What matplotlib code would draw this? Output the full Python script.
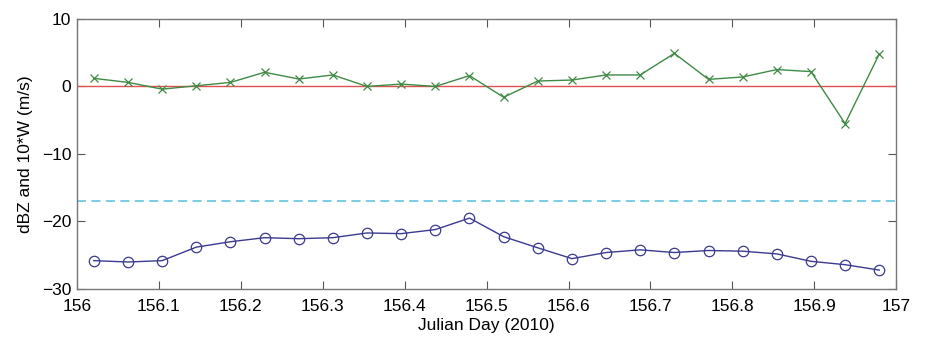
import numpy as np
import matplotlib
matplotlib.use("Agg")
import matplotlib.pyplot as plt

plt.rcParams['font.family'] = ['Liberation Sans', 'DejaVu Sans']

julian_day = [156 + (i + 0.5) / 24 for i in range(24)]
w_times10 = [1.2, 0.6, -0.4, 0.1, 0.6, 2.1, 1.1, 1.7, 0.0, 0.35, 0.0, 1.6,
             -1.6, 0.8, 0.95, 1.7, 1.7, 4.9, 1.05, 1.4, 2.5, 2.2, -5.5, 4.8]
dbz = [-25.8, -26.0, -25.8, -23.8, -23.0, -22.4, -22.55, -22.4, -21.7, -21.8, -21.2, -19.5,
       -22.25, -23.9, -25.5, -24.6, -24.2, -24.6, -24.3, -24.4, -24.8, -25.9, -26.4, -27.2]
zero_level = 0
threshold_level = -16.9

xticks = [156, 156.1, 156.2, 156.3, 156.4, 156.5, 156.6, 156.7, 156.8, 156.9, 157]
xticklabels = ["156", "156.1", "156.2", "156.3", "156.4", "156.5", "156.6", "156.7", "156.8", "156.9", "157"]
yticks = [-30, -20, -10, 0, 10]

fig = plt.figure(figsize=(9.25, 3.41), dpi=100)
ax = fig.add_axes([0.083, 0.1525, 0.886, 0.792])

ax.axhline(zero_level, color='#e05050', lw=1.0)
ax.axhline(threshold_level, color='#70c8e0', lw=1.3, ls=(0, (5, 3)))
ax.plot(julian_day, w_times10, color='#3f8a45', lw=1.0, marker='x', ms=5.5, mew=0.9)
ax.plot(julian_day, dbz, color='#3a3a90', lw=1.0, marker='o', ms=7.5, mfc='none', mew=0.9)

ax.set_xlim(156, 157)
ax.set_ylim(-30, 10)
ax.set_xticks(xticks)
ax.set_xticklabels(xticklabels)
ax.set_yticks(yticks)
ax.tick_params(direction='in', top=True, right=True, labelsize=12.5, length=5.5, color='#555555')
ax.tick_params(axis='x', pad=7)
ax.tick_params(axis='y', pad=4)
for s in ax.spines.values():
    s.set_color('#777777')
    s.set_linewidth(1.0)
ax.set_xlabel('Julian Day (2010)', fontsize=12.5, labelpad=3)
ax.set_ylabel('dBZ and 10*W (m/s)', fontsize=12.5, labelpad=6)

fig.savefig('out.png', dpi=100)
